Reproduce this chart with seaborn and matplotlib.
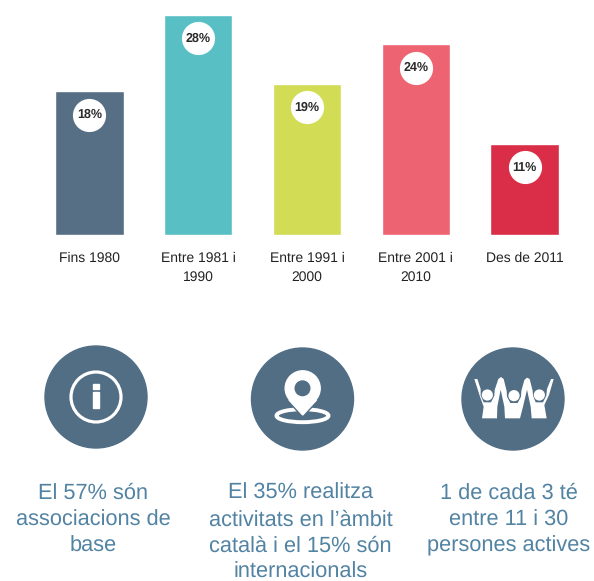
import seaborn as sns
import matplotlib.pyplot as plt
import pandas as pd
from matplotlib.patches import Circle, Ellipse, Polygon, Rectangle

# data
periods = ["Fins 1980", "Entre 1981 i\n1990", "Entre 1991 i\n2000", "Entre 2001 i\n2010", "Des de 2011"]
bar_values = [18.1, 27.7, 19.0, 24.0, 11.5]
pct_labels = ["18%", "28%", "19%", "24%", "11%"]
colors = ["#566f84", "#58bfc4", "#d2dc55", "#ee6371", "#d92d48"]

notes = [
    ["El 57% són", "associacions de", "base"],
    ["El 35% realitza", "activitats en l’àmbit", "català i el 15% són", "internacionals"],
    ["1 de cada 3 té", "entre 11 i 30", "persones actives"],
]
note_x = [93, 300.5, 508.5]
line_y = [493, 520, 546, 572]

W, H = 594, 581
icon_col = "#526e85"
text_col = "#5283a3"

sns.set_theme(style="white")
plt.rcParams["font.family"] = ["Liberation Sans", "DejaVu Sans"]
plt.rcParams["text.hinting"] = "no_hinting"

df = pd.DataFrame({"period": periods, "value": bar_values})

fig = plt.figure(figsize=(W / 100, H / 100), dpi=100)

# bars, placed in pixels
left, right, top, base = 35.1, 578.9, 0, 235
ax = fig.add_axes([left / W, 1 - base / H, (right - left) / W, (base - top) / H])
sns.barplot(data=df, x="period", y="value", hue="period", palette=colors, width=0.63,
            legend=False, saturation=1, ax=ax)
px_per_unit = 7.95
ax.set_xlim(-0.5, 4.5)
ax.set_ylim(0, base / px_per_unit)
ax.set_xlabel("")
ax.set_ylabel("")
ax.set_yticks([])
ax.tick_params(axis="x", length=0, pad=12, labelsize=10, labelcolor="#222222")
for lab in ax.get_xticklabels():
    lab.set_linespacing(1.55)
sns.despine(ax=ax, left=True, bottom=True)

# white badges with the percentages
badge_offset = 23.5 / px_per_unit
for i, v in enumerate(bar_values):
    ax.scatter(i, v - badge_offset, s=570, color="white", linewidth=0, zorder=3)
    ax.text(i, v - badge_offset, pct_labels[i], ha="center", va="center", fontsize=9,
            fontweight="bold", color="#2a2a2a", zorder=4)

# overlay in pixel coords for icons and notes
ov = fig.add_axes([0, 0, 1, 1])
ov.set_xlim(0, W)
ov.set_ylim(H, 0)
ov.axis("off")

# info icon
ov.add_patch(Circle((96, 397), 51, color=icon_col))
ov.add_patch(Circle((96, 397), 25, fill=False, ec="white", lw=2.3))
ov.add_patch(Rectangle((93.4, 384), 5.2, 5, color="white"))
ov.add_patch(Rectangle((93.4, 392), 5.2, 16, color="white"))

# pin icon
ov.add_patch(Circle((302.5, 399), 51, color=icon_col))
ov.add_patch(Ellipse((302.5, 415.7), 52, 13, fill=False, ec="white", lw=2.8))
ov.add_patch(Polygon([(289, 400), (316.5, 400), (302.7, 415)], fc="white", ec=icon_col, lw=3))
ov.add_patch(Circle((302.7, 388.3), 17.5, color="white"))
ov.add_patch(Polygon([(289, 400), (316.5, 400), (302.7, 415)], color="white"))
ov.add_patch(Circle((302.5, 388.3), 7.3, color=icon_col))

ov.add_patch(Circle((513, 399), 51, color=icon_col))
people = [(28, 42), (37, 42), (47, 72), (47, 92), (56, 112), (78, 112), (88, 92), (89, 75),
          (100, 42), (108, 36), (116, 42), (125, 78), (126, 95), (136, 114), (158, 114),
          (168, 95), (169, 78), (178, 45), (186, 38), (194, 42), (203, 78), (204, 92),
          (212, 112), (234, 112), (244, 92), (246, 72), (258, 42), (266, 42), (252, 90),
          (238, 120), (245, 160), (200, 160), (197, 125), (186, 74), (174, 125), (165, 160),
          (120, 160), (118, 125), (107, 74), (97, 125), (96, 160), (51, 160), (56, 125),
          (45, 95)]
heads = [(67, 90), (147, 92), (223, 90)]
ov.add_patch(Polygon([(465 + a / 3, 365 + b / 3) for a, b in people], color="white", lw=0))
for a, b in heads:
    ov.add_patch(Circle((465 + a / 3, 365 + b / 3), 5.6, color="white", lw=0))

# notes
for x, lines in zip(note_x, notes):
    for y, line in zip(line_y, lines):
        ov.text(x, y, line, ha="center", va="center", fontsize=15.7, color=text_col)

fig.savefig("out.png", dpi=100)
